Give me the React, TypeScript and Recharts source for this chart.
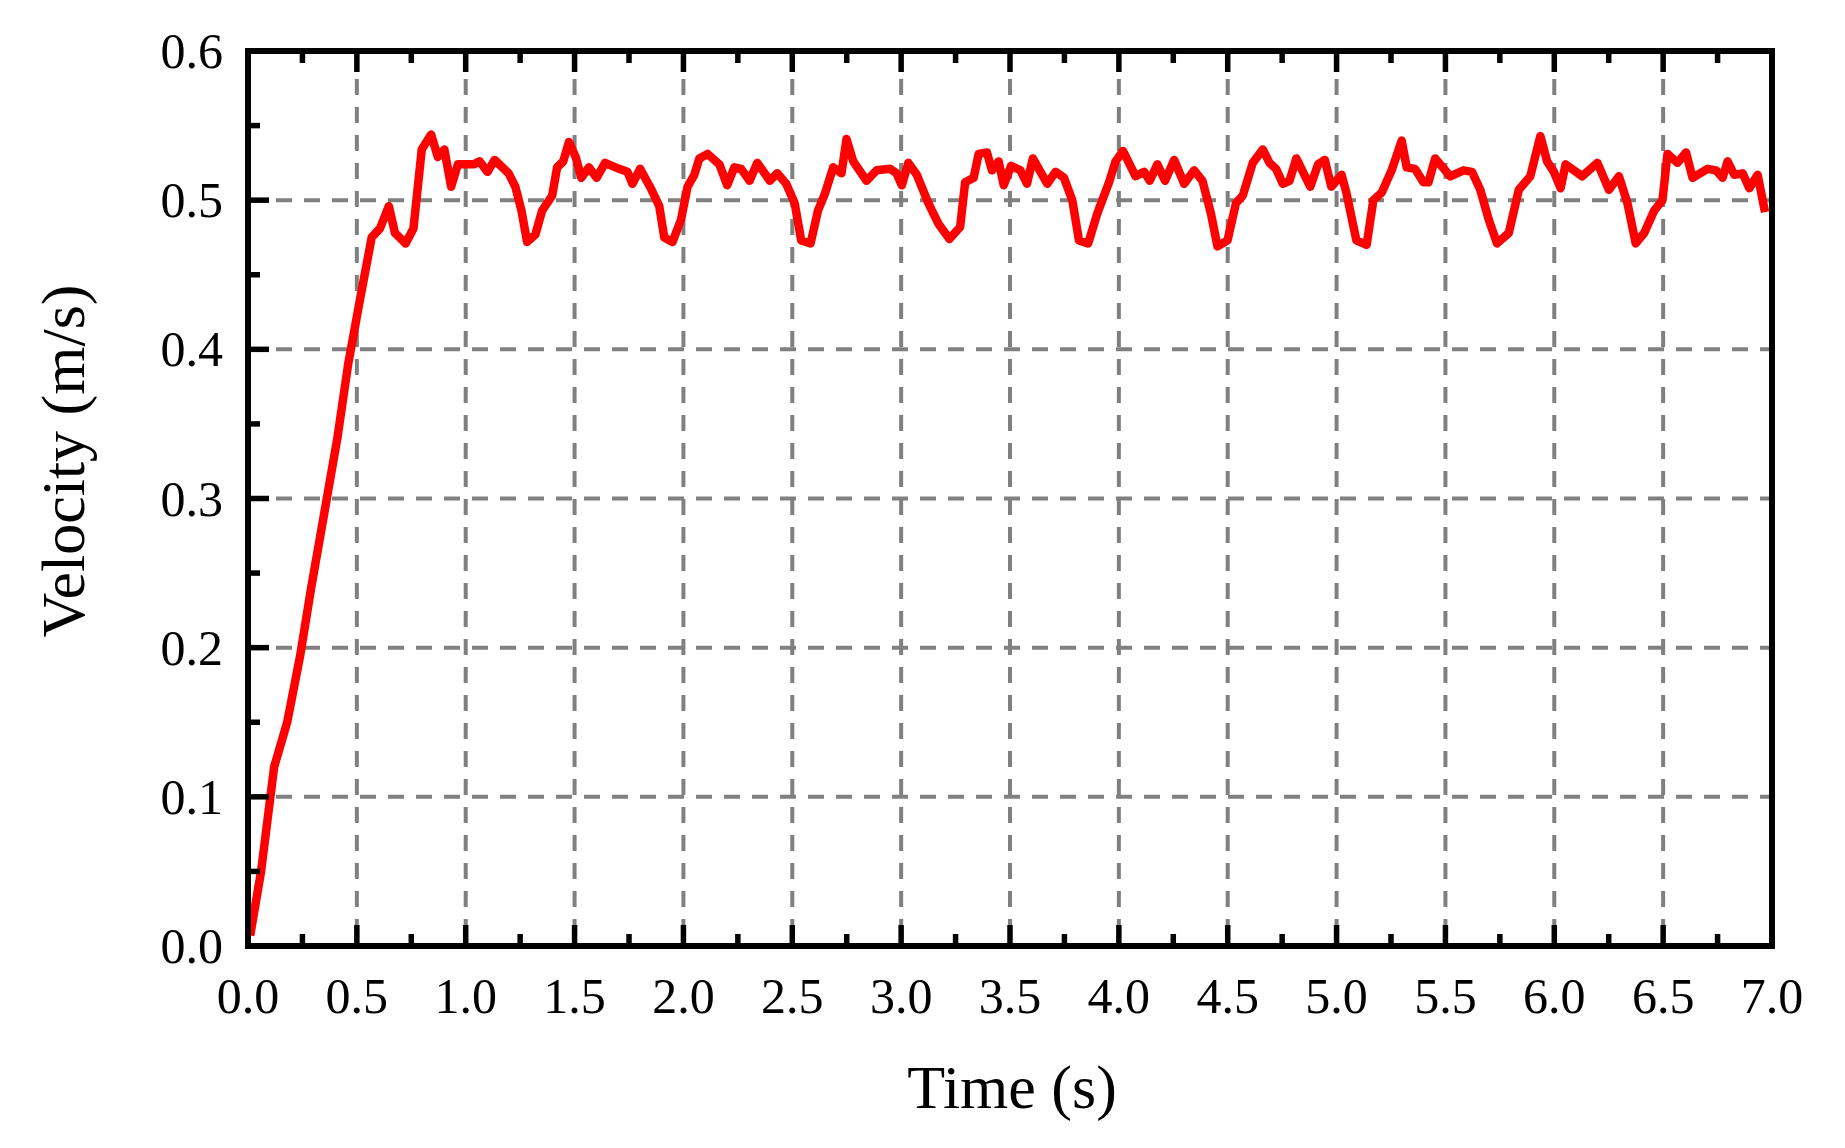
import React from "react";
import {
  CartesianGrid,
  Line,
  LineChart,
  XAxis,
  YAxis,
} from "recharts";

// time (s) and velocity (m/s)
const times = [
  0.01, 0.06, 0.12, 0.18, 0.24, 0.29, 0.35, 0.41, 0.46, 0.514, 0.568, 0.606,
  0.647, 0.675, 0.724, 0.76, 0.798, 0.841, 0.872, 0.902, 0.933, 0.964, 1.036,
  1.064, 1.1, 1.133, 1.197, 1.228, 1.256, 1.282, 1.32, 1.351, 1.397, 1.42,
  1.448, 1.474, 1.505, 1.531, 1.566, 1.601, 1.64, 1.704, 1.743, 1.766, 1.801,
  1.85, 1.889, 1.912, 1.95, 1.989, 2.019, 2.05, 2.073, 2.111, 2.165, 2.201,
  2.234, 2.265, 2.304, 2.339, 2.397, 2.431, 2.472, 2.511, 2.541, 2.584, 2.618,
  2.649, 2.688, 2.726, 2.749, 2.78, 2.841, 2.887, 2.949, 2.979, 3.003, 3.033,
  3.072, 3.125, 3.172, 3.222, 3.271, 3.294, 3.333, 3.356, 3.394, 3.417, 3.448,
  3.471, 3.505, 3.548, 3.578, 3.605, 3.671, 3.709, 3.748, 3.786, 3.817, 3.859,
  3.901, 3.955, 3.985, 4.019, 4.077, 4.116, 4.142, 4.177, 4.212, 4.254, 4.3,
  4.346, 4.384, 4.423, 4.453, 4.499, 4.538, 4.569, 4.615, 4.661, 4.692, 4.722,
  4.753, 4.784, 4.815, 4.879, 4.915, 4.946, 4.976, 5.023, 5.045, 5.091, 5.138,
  5.169, 5.207, 5.253, 5.299, 5.322, 5.36, 5.399, 5.422, 5.453, 5.522, 5.583,
  5.622, 5.66, 5.699, 5.737, 5.791, 5.837, 5.89, 5.936, 5.967, 5.998, 6.029,
  6.052, 6.128, 6.198, 6.251, 6.297, 6.336, 6.374, 6.413, 6.459, 6.497, 6.52,
  6.566, 6.605, 6.635, 6.704, 6.743, 6.773, 6.796, 6.827, 6.865, 6.896, 6.934,
  6.968,
];

const velocity = [
  0.007, 0.05, 0.12, 0.15, 0.195, 0.24, 0.29, 0.34, 0.39, 0.433, 0.475, 0.481,
  0.496, 0.478, 0.471, 0.481, 0.534, 0.544, 0.529, 0.534, 0.509, 0.524, 0.524,
  0.526, 0.519, 0.527, 0.518, 0.509, 0.493, 0.472, 0.477, 0.493, 0.503, 0.522,
  0.526, 0.539, 0.529, 0.515, 0.522, 0.515, 0.525, 0.521, 0.519, 0.511, 0.521,
  0.508, 0.496, 0.475, 0.472, 0.487, 0.509, 0.517, 0.528, 0.531, 0.524, 0.51,
  0.522, 0.521, 0.513, 0.525, 0.513, 0.518, 0.511, 0.498, 0.473, 0.471, 0.493,
  0.504, 0.522, 0.518, 0.541, 0.526, 0.513, 0.52, 0.521, 0.518, 0.51, 0.525,
  0.517, 0.498, 0.484, 0.474, 0.482, 0.512, 0.515, 0.531, 0.532, 0.52, 0.526,
  0.51, 0.523, 0.52, 0.511, 0.528, 0.511, 0.519, 0.515, 0.5, 0.473, 0.471,
  0.491, 0.512, 0.526, 0.533, 0.516, 0.519, 0.513, 0.524, 0.513, 0.527, 0.511,
  0.52, 0.513, 0.491, 0.469, 0.473, 0.498, 0.503, 0.525, 0.534, 0.525, 0.521,
  0.511, 0.513, 0.528, 0.509, 0.524, 0.527, 0.509, 0.517, 0.505, 0.473, 0.47,
  0.5, 0.505, 0.52, 0.54, 0.522, 0.521, 0.512, 0.512, 0.528, 0.516, 0.52,
  0.519, 0.507, 0.487, 0.471, 0.478, 0.507, 0.516, 0.543, 0.526, 0.519, 0.508,
  0.524, 0.516, 0.525, 0.507, 0.516, 0.498, 0.471, 0.478, 0.493, 0.5, 0.531,
  0.525, 0.532, 0.515, 0.521, 0.52, 0.515, 0.526, 0.517, 0.518, 0.508, 0.517,
  0.492,
];

const xTicks = [
  0, 0.25, 0.5, 0.75, 1, 1.25, 1.5, 1.75, 2, 2.25, 2.5, 2.75, 3, 3.25, 3.5,
  3.75, 4, 4.25, 4.5, 4.75, 5, 5.25, 5.5, 5.75, 6, 6.25, 6.5, 6.75, 7,
];
const yTicks = [0, 0.05, 0.1, 0.15, 0.2, 0.25, 0.3, 0.35, 0.4, 0.45, 0.5, 0.55, 0.6];
const xGrid = [0.5, 1, 1.5, 2, 2.5, 3, 3.5, 4, 4.5, 5, 5.5, 6, 6.5];
const yGrid = [0.1, 0.2, 0.3, 0.4, 0.5];

const data = times.map((t, i) => ({ t, v: velocity[i] }));

const FONT = "'Liberation Serif', 'Times New Roman', serif";
const MAJOR = 21;
const MINOR = 12;
const TICK_W = 5.5;

const isMajorX = (v: number) => Math.abs(v * 2 - Math.round(v * 2)) < 1e-6;
const isMajorY = (v: number) => Math.round(v * 100) % 10 === 0;

function XTick(props: any) {
  const { x, y, payload, side } = props;
  const major = isMajorX(payload.value);
  const len = major ? MAJOR : MINOR;
  const dir = side === "bottom" ? -1 : 1;
  return (
    <g>
      <line x1={x} x2={x} y1={y} y2={y + dir * len} stroke="#000" strokeWidth={TICK_W} />
      {side === "bottom" && major && (
        <text x={x} y={y + 67} textAnchor="middle" fontFamily={FONT} fontSize={50} fill="#000">
          {payload.value.toFixed(1)}
        </text>
      )}
    </g>
  );
}

function YTick(props: any) {
  const { x, y, payload, side } = props;
  const major = isMajorY(payload.value);
  const len = major ? MAJOR : MINOR;
  const dir = side === "left" ? 1 : -1;
  return (
    <g>
      <line x1={x} x2={x + dir * len} y1={y} y2={y} stroke="#000" strokeWidth={TICK_W} />
      {side === "left" && major && (
        <text x={x - 25} y={y + 17} textAnchor="end" fontFamily={FONT} fontSize={50} fill="#000">
          {payload.value.toFixed(1)}
        </text>
      )}
    </g>
  );
}

const axisLine = { stroke: "#000", strokeWidth: 6, strokeLinecap: "square" as const };

export default function App() {
  return (
    <div style={{ position: "absolute", left: 0, top: 0, width: 1845, height: 1148, background: "#fff" }}>
      <LineChart
        width={1845}
        height={1148}
        data={data}
        margin={{ top: 50, right: 72, bottom: 0, left: 0 }}
      >
        <CartesianGrid
          xAxisId="b"
          yAxisId="l"
          horizontalValues={yGrid}
          verticalValues={xGrid}
          stroke="#808080"
          strokeWidth={4}
          strokeDasharray="16 12"
        />
        <XAxis
          xAxisId="b"
          dataKey="t"
          type="number"
          domain={[0, 7]}
          ticks={xTicks}
          interval={0}
          height={202}
          tickSize={0}
          tickMargin={0}
          tickLine={false}
          axisLine={axisLine}
          tick={(p: any) => <XTick {...p} side="bottom" />}
        />
        <XAxis
          xAxisId="t"
          orientation="top"
          dataKey="t"
          type="number"
          domain={[0, 7]}
          ticks={xTicks}
          interval={0}
          height={1}
          tickSize={0}
          tickMargin={0}
          tickLine={false}
          axisLine={axisLine}
          tick={(p: any) => <XTick {...p} side="top" />}
        />
        <YAxis
          yAxisId="l"
          type="number"
          domain={[0, 0.6]}
          ticks={yTicks}
          interval={0}
          width={248}
          tickSize={0}
          tickMargin={0}
          tickLine={false}
          axisLine={axisLine}
          tick={(p: any) => <YTick {...p} side="left" />}
        />
        <YAxis
          yAxisId="r"
          orientation="right"
          type="number"
          domain={[0, 0.6]}
          ticks={yTicks}
          interval={0}
          width={1}
          tickSize={0}
          tickMargin={0}
          tickLine={false}
          axisLine={axisLine}
          tick={(p: any) => <YTick {...p} side="right" />}
        />
        <Line
          xAxisId="b"
          yAxisId="l"
          dataKey="v"
          type="linear"
          stroke="#ff0000"
          strokeWidth={8.5}
          strokeLinejoin="round"
          dot={false}
          activeDot={false}
          isAnimationActive={false}
        />
        <text x={1012} y={1108} textAnchor="middle" fontFamily={FONT} fontSize={62} fill="#000">
          Time (s)
        </text>
        <text
          x={84}
          y={461}
          textAnchor="middle"
          fontFamily={FONT}
          fontSize={62}
          fill="#000"
          transform="rotate(-90, 84, 461)"
        >
          Velocity (m/s)
        </text>
      </LineChart>
    </div>
  );
}
